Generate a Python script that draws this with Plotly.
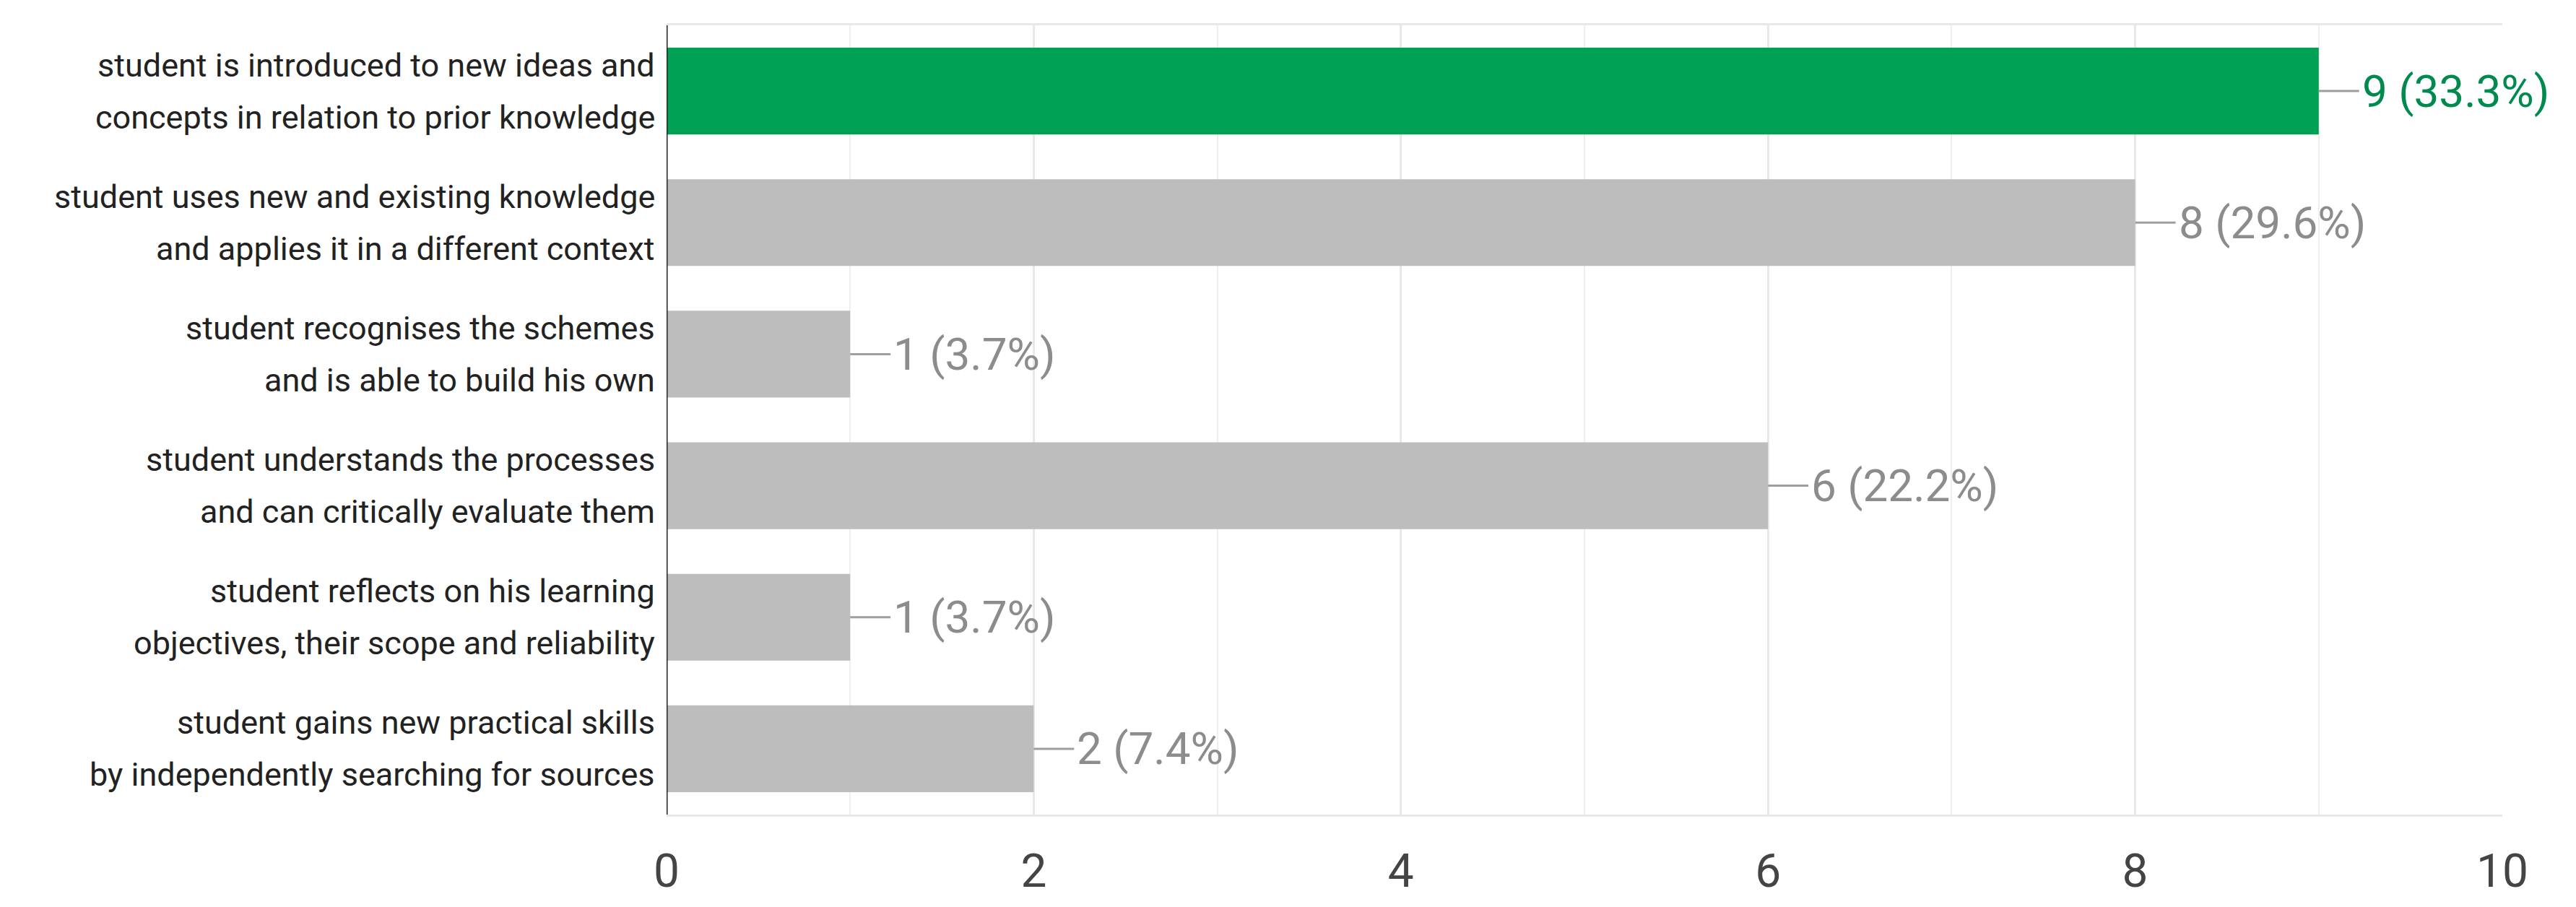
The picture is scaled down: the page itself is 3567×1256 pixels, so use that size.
import plotly.graph_objects as go

categories = [
    "student is introduced to new ideas and<br>concepts in relation to prior knowledge",
    "student uses new and existing knowledge<br>and applies it in a different context",
    "student recognises the schemes<br>and is able to build his own",
    "student understands the processes<br>and can critically evaluate them",
    "student reflects on his learning<br>objectives, their scope and reliability",
    "student gains new practical skills<br>by independently searching for sources",
]
values = [9, 8, 1, 6, 1, 2]
labels = ["9 (33.3%)", "8 (29.6%)", "1 (3.7%)", "6 (22.2%)", "1 (3.7%)", "2 (7.4%)"]
highlight = [True, False, False, False, False, False]
x_ticks = [0, 2, 4, 6, 8, 10]

bar_colors = ["#00A155" if h else "#BDBDBD" for h in highlight]
text_colors = ["#008A4E" if h else "#8C8C8C" for h in highlight]

fig = go.Figure(go.Bar(y=categories, x=values, orientation="h",
                       marker=dict(color=bar_colors, line=dict(width=0)), width=0.66))

for c, v, t, col in zip(categories, values, labels, text_colors):
    fig.add_shape(type="line", x0=v, x1=v + 0.22, y0=c, y1=c,
                  line=dict(color="#9E9E9E", width=3), layer="above")
    fig.add_annotation(x=v + 0.22, y=c, text=t, showarrow=False, xanchor="left",
                       font=dict(size=62, color=col, family="Roboto"), xshift=2)
    for line, shift in zip(c.split("<br>"), (36, -36)):
        fig.add_annotation(xref="paper", x=0, y=c, text=line, showarrow=False,
                           xanchor="right", xshift=-14, yshift=shift,
                           font=dict(size=45, color="#222222", family="Roboto"))

fig.add_shape(type="line", xref="x", yref="paper", x0=0, x1=0, y0=0, y1=1,
              line=dict(color="#222222", width=3), layer="above")

fig.update_layout(
    width=3567, height=1256,
    margin=dict(l=915, r=110, t=27, b=136),
    plot_bgcolor="white", paper_bgcolor="white",
    showlegend=False, bargap=0.34,
    font=dict(family="Roboto"),
    xaxis=dict(range=[0, 10], tickvals=x_ticks, ticktext=[str(v) for v in x_ticks],
               showgrid=True, gridcolor="#E8E8E8", gridwidth=3,
               minor=dict(dtick=1, showgrid=True, gridcolor="#EFEFEF", gridwidth=2),
               zeroline=False, showline=True, linecolor="#E8E8E8", linewidth=3, mirror=True,
               tickfont=dict(size=64, color="#444444"), ticks="", ticklabelstandoff=20),
    yaxis=dict(autorange="reversed", showgrid=False, zeroline=False,
               showticklabels=False, ticks=""),
)

fig.write_html("out.html")
